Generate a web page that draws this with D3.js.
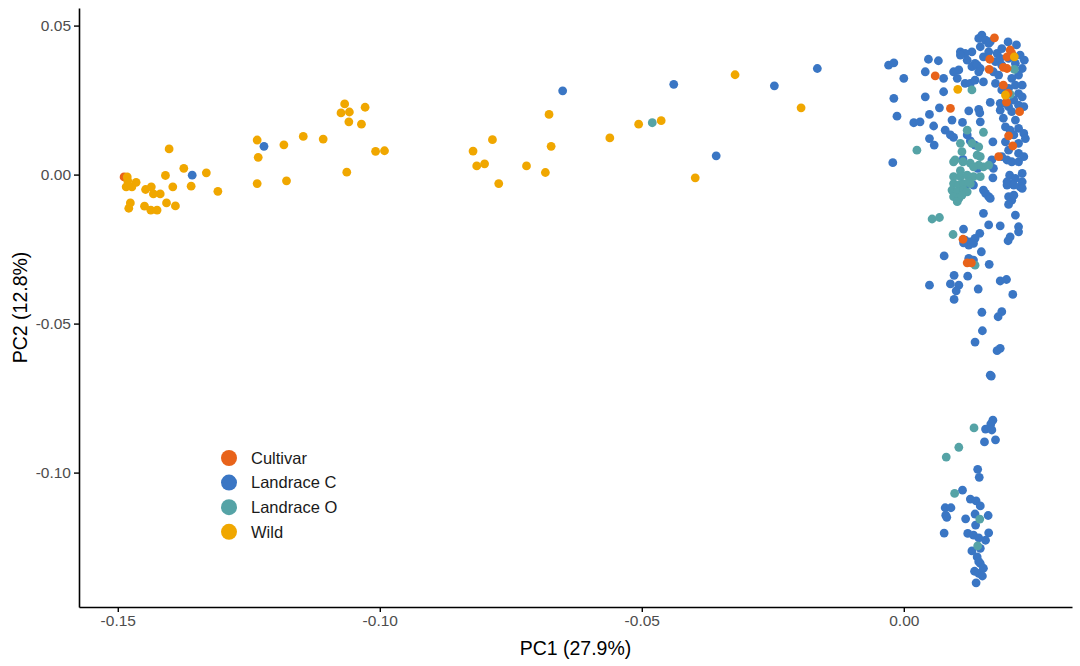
<!DOCTYPE html>
<html><head><meta charset="utf-8">
<script src="https://cdn.jsdelivr.net/npm/d3@7"></script>
<style>body{margin:0;background:#fff}svg{display:block}</style>
</head><body><svg id="c" width="1080" height="666"></svg>
<script>
const categories = ["Cultivar", "Landrace C", "Landrace O", "Wild"];
const colors = ["#E8631A", "#3A76C4", "#55A3A6", "#F0A700"];
const xTicks = [-0.15, -0.10, -0.05, 0.00];
const yTicks = [0.05, 0.00, -0.05, -0.10];
const xTitle = "PC1 (27.9%)";
const yTitle = "PC2 (12.8%)";

const landraceC = [
[-0.1358,-0.0002],[-0.1221,0.0095],[-0.0651,0.0281],[-0.0439,0.0303],[-0.0358,0.0063],[-0.0247,0.0298],[-0.0165,0.0356],
[0.0149,0.0468],[0.0143,0.0457],[0.0156,0.0451],[0.0162,0.0440],[0.0108,0.0412],[0.0130,0.0412],[0.0117,0.0407],[0.0146,0.0429],[-0.0029,0.0367],[-0.0019,0.0375],[0.0000,0.0323],[0.0047,0.0387],[0.0066,0.0382],[0.0041,0.0345],[0.0076,0.0323],[0.0095,0.0345],[0.0105,0.0351],[0.0102,0.0323],[0.0117,0.0306],[0.0127,0.0306],[0.0136,0.0317],[0.0152,0.0311],[0.0108,0.0401],[0.0121,0.0384],[0.0136,0.0373],[0.0130,0.0362],[0.0146,0.0356],[0.0076,0.0278],[-0.0019,0.0256],[0.0041,0.0261],[0.0068,0.0224],[0.0092,0.0183],[0.0124,0.0214],[0.0143,0.0219],[0.0145,0.0207],[-0.0013,0.0196],[0.0019,0.0174],[0.0031,0.0177],[0.0049,0.0202],[0.0057,0.0163],[0.0079,0.0149],[0.0089,0.0133],[0.0095,0.0125],[0.0049,0.0121],[0.0058,0.0099],[0.0112,0.0175],[0.0121,0.0133],[0.0127,0.0113],[0.0136,0.0099],[0.0170,0.0110],[-0.0021,0.0040],[0.0141,0.0021],[0.0170,-0.0011],[0.0202,-0.0002],[0.0226,0.0004],
[0.0165,0.0446],[0.0162,0.0412],[0.0178,0.0407],[0.0187,0.0423],[0.0175,0.0379],[0.0184,0.0390],[0.0152,0.0395],[0.0140,0.0367],[0.0143,0.0345],[0.0171,0.0345],[0.0181,0.0334],[0.0187,0.0367],[0.0200,0.0390],[0.0213,0.0373],[0.0222,0.0401],[0.0226,0.0356],[0.0219,0.0334],[0.0206,0.0323],[0.0213,0.0300],[0.0226,0.0300],[0.0187,0.0284],[0.0175,0.0306],[0.0200,0.0289],[0.0219,0.0272],[0.0226,0.0261],[0.0210,0.0250],[0.0165,0.0242],[0.0184,0.0239],[0.0194,0.0239],[0.0215,0.0435],[0.0230,0.0384],[0.0199,0.0445],
[0.0200,0.0228],[0.0219,0.0233],[0.0229,0.0228],[0.0184,0.0216],[0.0206,0.0211],[0.0146,0.0177],[0.0190,0.0189],[0.0213,0.0183],[0.0194,0.0160],[0.0203,0.0149],[0.0219,0.0155],[0.0229,0.0138],[0.0232,0.0121],[0.0210,0.0133],[0.0194,0.0110],[0.0219,0.0105],[0.0200,0.0082],[0.0219,0.0071],[0.0229,0.0060],[0.0168,0.0049],[0.0187,0.0060],[0.0197,0.0049],[0.0206,0.0043],[0.0219,0.0043],[0.0171,0.0021],[0.0213,-0.0013],[0.0226,-0.0024],[0.0197,-0.0024],
[0.0113,0.0051],[0.0117,-0.0041],[0.0133,-0.0035],[0.0203,-0.0030],[0.0222,-0.0041],[0.0152,-0.0052],[0.0162,-0.0074],[0.0200,-0.0074],[0.0206,-0.0086],
[0.0197,-0.0035],[0.0210,-0.0035],[0.0226,-0.0046],[0.0156,-0.0063],[0.0165,-0.0080],[0.0210,-0.0069],[0.0200,-0.0100],[0.0152,-0.0130],[0.0213,-0.0136],[0.0162,-0.0169],[0.0184,-0.0172],[0.0219,-0.0175],[0.0219,-0.0192],[0.0203,-0.0209],[0.0199,-0.0222],[0.0114,-0.0183],[0.0145,-0.0197],[0.0117,-0.0220],[0.0127,-0.0226],[0.0136,-0.0214],[0.0124,-0.0237],[0.0133,-0.0231],[0.0114,-0.0229],[0.0148,-0.0259],[0.0077,-0.0273],[0.0124,-0.0281],[0.0133,-0.0287],[0.0163,-0.0301],[0.0096,-0.0338],[0.0122,-0.0341],[0.0049,-0.0371],[0.0089,-0.0367],[0.0105,-0.0371],[0.0100,-0.0390],[0.0142,-0.0384],[0.0184,-0.0357],[0.0196,-0.0352],[0.0208,-0.0402],[0.0096,-0.0419],[0.0149,-0.0462],[0.0187,-0.0460],[0.0180,-0.0477],[0.0150,-0.0524],[0.0136,-0.0562],[0.0184,-0.0583],[0.0178,-0.0591],
[0.0165,-0.0673],[0.0167,-0.0676],[0.0170,-0.0824],[0.0166,-0.0837],[0.0156,-0.0854],[0.0168,-0.0857],[0.0154,-0.0897],[0.0175,-0.0890],[0.0141,-0.0989],[0.0144,-0.1016],[0.0112,-0.1059],[0.0127,-0.1089],[0.0138,-0.1095],[0.0146,-0.1112],[0.0079,-0.1118],[0.0090,-0.1118],[0.0080,-0.1143],[0.0082,-0.1150],[0.0118,-0.1155],[0.0136,-0.1139],[0.0161,-0.1144],[0.0137,-0.1176],[0.0077,-0.1203],[0.0122,-0.1204],[0.0133,-0.1210],[0.0162,-0.1202],[0.0143,-0.1219],[0.0156,-0.1227],[0.0146,-0.1254],[0.0130,-0.1263],[0.0140,-0.1283],[0.0143,-0.1299],[0.0146,-0.1305],[0.0152,-0.1321],[0.0135,-0.1331],[0.0143,-0.1338],[0.0150,-0.1347],[0.0138,-0.1370]
];

const landraceO = [
[-0.0480,0.0174],[0.0211,0.0353],[0.0130,0.0284],[0.0203,0.0269],[0.0121,0.0149],[0.0152,0.0142],[0.0108,0.0105],[0.0130,0.0105],[0.0025,0.0082],[0.0111,0.0077],[0.0098,0.0049],[0.0140,0.0065],[0.0146,0.0060],[0.0127,0.0038],[0.0152,0.0026],[0.0143,0.0093],[0.0143,0.0032],[0.0095,0.0043],[0.0113,0.0043],[0.0133,0.0026],[0.0162,0.0032],[0.0108,0.0013],[0.0095,-0.0007],[0.0108,-0.0007],[0.0121,-0.0002],[0.0133,-0.0007],[0.0146,-0.0007],[0.0095,-0.0030],[0.0105,-0.0035],[0.0114,-0.0030],[0.0127,-0.0030],[0.0124,-0.0024],[0.0092,-0.0052],[0.0102,-0.0058],[0.0114,-0.0052],[0.0095,-0.0074],[0.0105,-0.0080],[0.0102,-0.0091],[0.0121,-0.0058],[0.0111,-0.0069],[0.0054,-0.0149],[0.0068,-0.0144],[0.0094,-0.0201],[0.0136,-0.0304],[0.0134,-0.0850],[0.0105,-0.0915],[0.0081,-0.0948],[0.0097,-0.1070],[0.0145,-0.1156],[0.0141,-0.1246]
];

const cultivar = [
[-0.1488,-0.0008],[0.0173,0.0459],[0.0203,0.0418],[0.0206,0.0407],[0.0197,0.0395],[0.0164,0.0387],[0.0163,0.0353],[0.0190,0.0360],[0.0197,0.0356],[0.0060,0.0331],[0.0089,0.0222],[0.0190,0.0300],[0.0199,0.0273],[0.0196,0.0243],[0.0221,0.0211],[0.0200,0.0130],[0.0208,0.0096],[0.0181,0.0060],[0.0121,-0.0296],[0.0129,-0.0296],[0.0113,-0.0217]
];

const wild = [
[-0.1482,-0.0008],[-0.1402,0.0086],[-0.1481,-0.0021],[-0.1465,-0.0026],[-0.1484,-0.0041],[-0.1473,-0.0041],[-0.1447,-0.0050],[-0.1436,-0.0041],[-0.1432,-0.0065],[-0.1419,-0.0065],[-0.1409,-0.0003],[-0.1395,-0.0041],[-0.1374,0.0021],[-0.1360,-0.0039],[-0.1331,0.0006],[-0.1309,-0.0056],[-0.1476,-0.0095],[-0.1479,-0.0113],[-0.1449,-0.0106],[-0.1437,-0.0119],[-0.1425,-0.0119],[-0.1407,-0.0095],[-0.1390,-0.0105],[-0.1234,0.0116],[-0.1232,0.0058],[-0.1234,-0.0030],[-0.1183,0.0100],[-0.1178,-0.0021],[-0.1146,0.0128],[-0.1108,0.0119],[-0.1063,0.0008],[-0.1008,0.0078],[-0.0991,0.0080],[-0.1067,0.0237],[-0.1074,0.0207],[-0.1058,0.0210],[-0.1028,0.0226],[-0.1059,0.0177],[-0.1035,0.0169],[-0.0822,0.0079],[-0.0815,0.0029],[-0.0800,0.0036],[-0.0785,0.0117],[-0.0773,-0.0030],[-0.0720,0.0029],[-0.0684,0.0007],[-0.0677,0.0202],[-0.0673,0.0095],[-0.0561,0.0123],[-0.0506,0.0169],[-0.0463,0.0181],[-0.0398,-0.0011],[-0.0322,0.0335],[-0.0196,0.0224],[0.0211,0.0395],[0.0103,0.0286],[0.0194,0.0267]
];

const xDomain = [-0.1574, 0.0321];
const yDomain = [-0.1451, 0.0559];

// drawing order (first drawn at the bottom)
const layers = [
  {name: "Landrace C", pts: landraceC},
  {name: "Landrace O", pts: landraceO},
  {name: "Cultivar", pts: cultivar},
  {name: "Wild", pts: wild}
];

const svg = d3.select("#c");
const M = {l: 79, r: 1072, t: 8, b: 607};
const x = d3.scaleLinear().domain(xDomain).range([M.l, M.r]);
const y = d3.scaleLinear().domain(yDomain).range([M.b, M.t]);
const color = d3.scaleOrdinal().domain(categories).range(colors);
const fmt = d => d.toFixed(2);
const FONT = "'Liberation Sans', Arial, sans-serif";

// points
const gp = svg.append("g");
layers.forEach(L => {
  gp.append("g").selectAll("circle").data(L.pts).join("circle")
    .attr("cx", d => x(d[0])).attr("cy", d => y(d[1])).attr("r", 4.4)
    .attr("fill", color(L.name));
});

// axes
const xa = svg.append("g").attr("transform", `translate(0,${M.b})`)
  .call(d3.axisBottom(x).tickValues(xTicks).tickFormat(fmt).tickSize(5).tickSizeOuter(0).tickPadding(3));
const ya = svg.append("g").attr("transform", `translate(${M.l},0)`)
  .call(d3.axisLeft(y).tickValues(yTicks).tickFormat(fmt).tickSize(5).tickSizeOuter(0).tickPadding(3));
[xa, ya].forEach(a => {
  a.select(".domain").attr("stroke", "#000").attr("stroke-width", 1.6);
  a.selectAll(".tick line").attr("stroke", "#000").attr("stroke-width", 1.4);
  a.selectAll(".tick text").attr("fill", "#4D4D4D").style("font-family", FONT).style("font-size", "15.5px");
});

// titles
svg.append("text").attr("x", (M.l + M.r) / 2).attr("y", 655).attr("text-anchor", "middle")
  .style("font-family", FONT).style("font-size", "19.5px").attr("fill", "#000").text(xTitle);
svg.append("text").attr("transform", `translate(27,${(M.t + M.b) / 2}) rotate(-90)`).attr("text-anchor", "middle")
  .style("font-family", FONT).style("font-size", "19.5px").attr("fill", "#000").text(yTitle);

// legend
const lg = svg.append("g");
categories.forEach((c, i) => {
  const cy = 458 + i * 24.6;
  lg.append("circle").attr("cx", 229).attr("cy", cy).attr("r", 8).attr("fill", color(c));
  lg.append("text").attr("x", 251).attr("y", cy).attr("dy", "0.35em")
    .style("font-family", FONT).style("font-size", "16.5px").attr("fill", "#1A1A1A").text(c);
});
</script>
</body></html>
